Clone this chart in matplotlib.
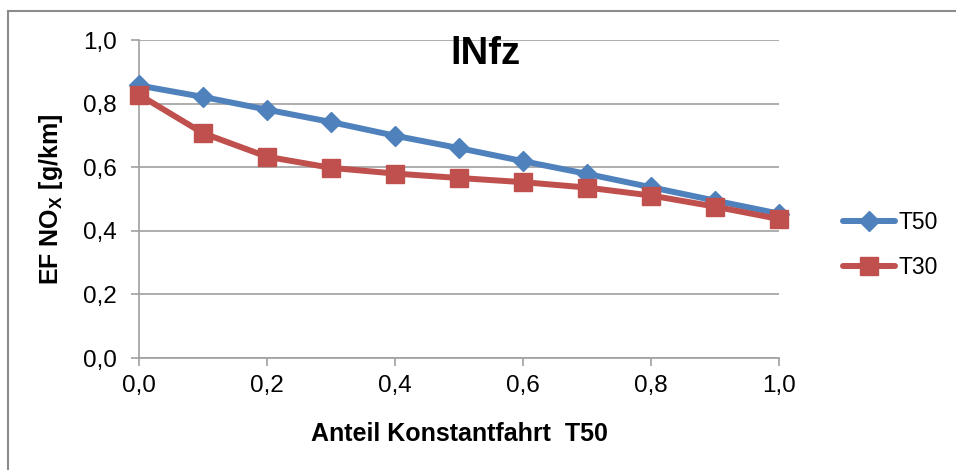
import matplotlib
matplotlib.use('Agg')
import matplotlib.pyplot as plt
from matplotlib.lines import Line2D

# Data
anteil = [0.0, 0.1, 0.2, 0.3, 0.4, 0.5, 0.6, 0.7, 0.8, 0.9, 1.0]
t50 = [0.857, 0.821, 0.781, 0.742, 0.699, 0.660, 0.619, 0.579, 0.537, 0.495, 0.454]
t30 = [0.828, 0.707, 0.633, 0.598, 0.580, 0.566, 0.553, 0.536, 0.511, 0.476, 0.437]
x_ticks = [0.0, 0.2, 0.4, 0.6, 0.8, 1.0]
y_ticks = [0.0, 0.2, 0.4, 0.6, 0.8, 1.0]

plt.rcParams['font.family'] = ['Liberation Sans', 'DejaVu Sans']
plt.rcParams['mathtext.fontset'] = 'custom'
plt.rcParams['mathtext.rm'] = 'Liberation Sans:bold'
plt.rcParams['mathtext.default'] = 'regular'

blue = '#4F81BD'
red = '#C0504D'
grid_col = '#A0A0A0'

fig = plt.figure(figsize=(9.56, 4.70), dpi=100)
ax = fig.add_axes([139 / 956, 1 - 358 / 470, 640 / 956, 318 / 470])

ax.plot(anteil, t50, color=blue, lw=4.3, marker='D', ms=10, label='T50', zorder=3, clip_on=False)
ax.plot(anteil, t30, color=red, lw=4.3, marker='s', ms=13, label='T30', zorder=4, clip_on=False)

ax.set_xlim(0, 1)
ax.set_ylim(0, 1)
ax.set_xticks(x_ticks)
ax.set_yticks(y_ticks)
ax.set_xticklabels([f'{v:.1f}'.replace('.', ',') for v in x_ticks])
ax.set_yticklabels([f'{v:.1f}'.replace('.', ',') for v in y_ticks])
ax.tick_params(labelsize=17.5, colors=grid_col, labelcolor='black', length=6, width=1.2)
ax.tick_params(axis='x', pad=6)
ax.tick_params(axis='y', pad=10)

ax.grid(axis='y', color=grid_col, lw=1.2)
ax.set_axisbelow(True)
for s in ['top', 'right']:
    ax.spines[s].set_visible(False)
for s in ['left', 'bottom']:
    ax.spines[s].set_color(grid_col)
    ax.spines[s].set_linewidth(1.2)

ax.set_xlabel('Anteil Konstantfahrt  T50', fontsize=18, fontweight='bold', labelpad=18)
ax.set_ylabel(r'EF NO$_X$ [g/km]', fontsize=18, fontweight='bold', labelpad=13)

ax.text(0.542, 0.955, 'lNfz', transform=ax.transAxes, ha='center', va='center',
        fontsize=27.5, fontweight='bold')

fig.legend(handles=[Line2D([], [], color=blue, lw=4.3, marker='D', ms=10, solid_capstyle='round'),
                    Line2D([], [], color=red, lw=4.3, marker='s', ms=13, solid_capstyle='round')],
           labels=['T50', 'T30'], loc='center left', bbox_to_anchor=(822 / 956, 1 - 245 / 470),
           frameon=False, fontsize=16.5, handlelength=2.3, handletextpad=0.15, labelspacing=1.0)

# outer chart frame
fig.add_artist(Line2D([8 / 956, 1], [1 - 11 / 470, 1 - 11 / 470], color='#8C8C8C', lw=1.5))
fig.add_artist(Line2D([8 / 956, 8 / 956], [0, 1 - 11 / 470], color='#8C8C8C', lw=1.5))

fig.savefig('out.png', dpi=100)
